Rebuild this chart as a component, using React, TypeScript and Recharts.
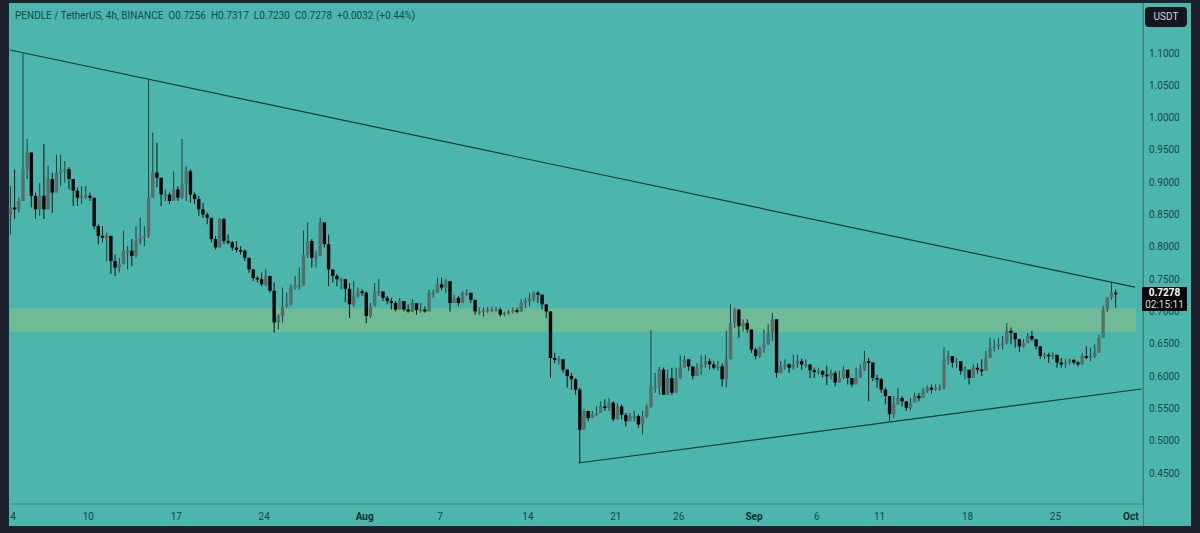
import { ComposedChart, Bar, XAxis, YAxis, ReferenceLine, ReferenceArea } from 'recharts';

// 8h candles, first candle sits a little before Jul 4
const closes = [
  .861, .858, .871, .920, .946, .879, .858, .879, .858, .905, .884, .915, .917, .920, .905, .887, .876, .879, .879, .876,
  .832, .817, .814, .817, .778, .768, .773, .794, .794, .786, .809, .814, .817, .876, .915, .907, .881, .881, .871, .889,
  .876, .897, .917, .881, .874, .858, .850, .845, .812, .799, .843, .809, .807, .799, .795, .794, .783, .765, .752, .750,
  .742, .755, .732, .683, .693, .708, .711, .737, .740, .740, .788, .809, .783, .786, .838, .804, .765, .755, .750, .750,
  .735, .711, .724, .731, .729, .693, .708, .731, .731, .721, .716, .713, .703, .716, .703, .700, .713, .702, .703, .700,
  .729, .729, .742, .737, .747, .713, .721, .713, .729, .729, .718, .700, .700, .702, .703, .703, .703, .695, .698, .700,
  .702, .700, .713, .716, .721, .729, .726, .711, .700, .628, .625, .626, .610, .600, .595, .579, .517, .546, .535, .541,
  .543, .553, .551, .559, .533, .553, .540, .530, .538, .538, .525, .538, .553, .584, .584, .610, .571, .597, .574, .597,
  .613, .626, .615, .600, .613, .618, .623, .618, .613, .615, .595, .626, .682, .703, .677, .682, .672, .641, .631, .644,
  .649, .667, .688, .605, .615, .618, .613, .618, .623, .618, .618, .609, .606, .608, .602, .600, .605, .590, .597, .610,
  .597, .587, .597, .610, .623, .621, .597, .595, .579, .569, .541, .556, .566, .561, .551, .559, .569, .566, .577, .582,
  .579, .582, .582, .626, .631, .621, .623, .608, .610, .597, .613, .610, .608, .628, .644, .646, .649, .651, .670, .667,
  .657, .646, .651, .662, .657, .646, .631, .633, .631, .633, .621, .618, .621, .625, .621, .618, .631, .628, .631, .636,
  .659, .703, .722, .729, .7278,
];
const highs = [
  .894, .920, .876, 1.100, .967, .946, .884, .899, .959, .925, .915, .943, .943, .933, .923, .905, .892, .894, .894, .884,
  .876, .835, .832, .822, .817, .788, .783, .825, .801, .812, .832, .845, .832, 1.059, .977, .961, .897, .889, .884, .917,
  .894, .967, .925, .920, .884, .879, .868, .853, .843, .817, .845, .845, .819, .809, .809, .801, .796, .783, .765, .755,
  .760, .765, .755, .745, .696, .737, .729, .742, .755, .768, .825, .838, .812, .794, .845, .827, .819, .765, .758, .752,
  .742, .744, .747, .737, .734, .731, .713, .744, .750, .729, .724, .721, .716, .721, .716, .711, .719, .708, .713, .708,
  .734, .734, .752, .752, .750, .744, .726, .724, .731, .734, .726, .716, .706, .706, .707, .707, .707, .706, .700, .703,
  .706, .706, .719, .721, .729, .731, .731, .721, .711, .700, .636, .631, .626, .610, .605, .597, .582, .549, .546, .546,
  .553, .561, .564, .566, .561, .558, .556, .543, .543, .546, .541, .546, .556, .671, .605, .614, .613, .610, .613, .613,
  .632, .632, .623, .613, .620, .632, .633, .628, .623, .623, .620, .670, .711, .706, .703, .688, .688, .672, .644, .646,
  .672, .680, .698, .649, .623, .626, .620, .633, .633, .627, .626, .618, .613, .613, .609, .616, .610, .608, .608, .615,
  .605, .597, .613, .618, .639, .628, .621, .602, .597, .582, .563, .569, .582, .569, .559, .566, .574, .574, .582, .585,
  .587, .587, .587, .644, .639, .628, .628, .620, .615, .608, .618, .620, .626, .639, .659, .657, .659, .662, .682, .675,
  .664, .657, .657, .667, .670, .656, .646, .636, .636, .637, .628, .628, .626, .627, .626, .623, .636, .646, .644, .649,
  .664, .709, .722, .745, .734,
];
const lows = [
  .819, .843, .853, .879, .905, .861, .843, .848, .843, .858, .853, .892, .894, .899, .889, .863, .863, .866, .874, .871,
  .827, .804, .807, .778, .758, .755, .760, .776, .765, .770, .783, .804, .801, .814, .879, .892, .863, .871, .866, .879,
  .871, .874, .871, .868, .866, .848, .845, .835, .807, .796, .799, .804, .804, .794, .791, .788, .778, .760, .747, .745,
  .739, .739, .729, .667, .672, .683, .706, .709, .734, .734, .740, .783, .768, .768, .786, .799, .739, .745, .739, .734,
  .714, .690, .708, .721, .724, .682, .690, .708, .724, .716, .711, .703, .700, .703, .700, .698, .699, .695, .698, .698,
  .703, .721, .729, .733, .729, .700, .713, .708, .716, .724, .713, .695, .695, .692, .698, .699, .700, .692, .693, .695,
  .697, .697, .700, .706, .708, .716, .713, .703, .690, .597, .620, .618, .605, .582, .579, .571, .466, .517, .530, .535,
  .538, .546, .546, .546, .530, .538, .533, .522, .530, .530, .520, .510, .535, .551, .574, .571, .571, .571, .571, .590,
  .595, .615, .608, .595, .600, .602, .613, .610, .610, .608, .584, .583, .626, .674, .659, .669, .667, .636, .626, .628,
  .636, .649, .654, .597, .605, .610, .605, .610, .613, .610, .613, .597, .597, .602, .598, .586, .595, .584, .590, .595,
  .587, .583, .590, .602, .608, .561, .592, .582, .574, .556, .530, .535, .556, .553, .546, .548, .561, .561, .566, .574,
  .573, .577, .577, .579, .618, .613, .613, .602, .595, .587, .602, .604, .600, .613, .628, .638, .641, .641, .649, .649,
  .644, .637, .644, .654, .654, .641, .627, .626, .620, .626, .613, .613, .613, .618, .618, .615, .618, .626, .623, .628,
  .641, .659, .699, .718, .706,
];
const opens = closes.map((c, i) => (i === 0 ? .850 : closes[i - 1]));
const candles = closes.map((close, i) => ({
  day: -0.2 + i / 3,
  open: opens[i],
  close,
  high: highs[i],
  low: lows[i],
  range: [lows[i], highs[i]],
}));

const priceTicks = [1.1, 1.05, 1.0, 0.95, 0.9, 0.85, 0.8, 0.75, 0.7, 0.65, 0.6, 0.55, 0.5, 0.45];
const dayTicks = [0, 6, 13, 20, 28, 34, 41, 48, 53, 59, 64, 69, 76, 83, 89];
const dayLabels = ['4', '10', '17', '24', 'Aug', '7', '14', '21', '26', 'Sep', '6', '11', '18', '25', 'Oct'];
const monthLabels = ['Aug', 'Sep', 'Oct'];

const upperTrend = [{ x: -0.24, y: 1.1046 }, { x: 89.33, y: 0.7376 }];
const lowerTrend = [{ x: 45.0, y: 0.4655 }, { x: 89.85, y: 0.58 }];
const zone = { x1: -0.24, x2: 89.4, y1: 0.6686, y2: 0.7046 };

const BG = '#1e222d';
const TEAL = '#4db6ac';
const TEXT = '#12494d';
const FONT = 'Roboto, sans-serif';

function Candle(props: any) {
  const { x, y, width, height, payload } = props;
  const perPrice = height / (payload.high - payload.low);
  const toY = (v: number) => y + (payload.high - v) * perPrice;
  const mid = x + width / 2 - 0.5;
  const up = payload.close >= payload.open;
  const top = toY(Math.max(payload.open, payload.close));
  const bottom = toY(Math.min(payload.open, payload.close));
  return (
    <g>
      <line x1={mid} x2={mid} y1={y} y2={y + height} stroke={up ? '#1f3d3e' : '#0b1414'} strokeWidth={1} />
      <rect
        x={mid - 1.7}
        y={top}
        width={3.4}
        height={Math.max(bottom - top, 1.6)}
        fill={up ? '#566e6c' : '#040606'}
        stroke="none"
      />
    </g>
  );
}

function DayTick(props: any) {
  const { x, y, payload } = props;
  const label = dayLabels[dayTicks.indexOf(payload.value)];
  const month = monthLabels.includes(label);
  return (
    <text
      x={x}
      y={y + 8}
      textAnchor="middle"
      fontFamily={FONT}
      fontSize={10}
      fontWeight={month ? 700 : 400}
      fill={month ? '#0c2f33' : TEXT}
    >
      {label}
    </text>
  );
}

export default function App() {
  return (
    <div style={{ position: 'absolute', left: 0, top: 0, width: 1200, height: 533, background: BG, overflow: 'hidden' }}>
      <div style={{ position: 'absolute', left: 9, top: 3, width: 1182, height: 523, background: TEAL }} />
      <div style={{ position: 'absolute', left: 1143, top: 3, width: 1, height: 523, background: '#3a8486' }} />
      <div style={{ position: 'absolute', left: 0, top: 0 }}>
        <ComposedChart
          width={1200}
          height={533}
          data={candles}
          margin={{ top: 3, right: 9, bottom: 7, left: 10 }}
        >
          <XAxis
            dataKey="day"
            type="number"
            domain={[-0.24, 89.97]}
            ticks={dayTicks}
            interval={0}
            height={22}
            tick={<DayTick />}
            tickLine={false}
            axisLine={{ stroke: '#3a8486' }}
          />
          <YAxis
            orientation="right"
            type="number"
            domain={[0.402, 1.1774]}
            ticks={priceTicks}
            interval={0}
            width={48}
            tickFormatter={(v: number) => v.toFixed(4)}
            tick={{ fontFamily: FONT, fontSize: 10, fill: TEXT, dx: -2 }}
            tickLine={false}
            axisLine={{ stroke: '#3a8486' }}
          />
          <ReferenceArea {...zone} fill="#6fbb96" fillOpacity={1} stroke="none" />
          <Bar dataKey="range" barSize={3} shape={<Candle />} isAnimationActive={false} />
          <ReferenceLine segment={upperTrend} stroke="#123c40" strokeWidth={1.2} />
          <ReferenceLine segment={lowerTrend} stroke="#123c40" strokeWidth={1.2} />
        </ComposedChart>
      </div>
      <div style={{ position: 'absolute', left: 15, top: 10, fontFamily: FONT, fontSize: 10, color: TEXT, whiteSpace: 'pre' }}>
        {'PENDLE / TetherUS, 4h, BINANCE  O0.7256  H0.7317  L0.7230  C0.7278  +0.0032 (+0.44%)'}
      </div>
      <div style={{ position: 'absolute', left: 1145, top: 7, width: 42, height: 20, borderRadius: 4, background: '#14161f', color: '#d6d8de', fontFamily: FONT, fontSize: 10, lineHeight: '20px', textAlign: 'center' }}>
        USDT
      </div>
      <div style={{ position: 'absolute', left: 1142, top: 287, width: 45, height: 24, background: '#050708', fontFamily: FONT, fontSize: 10, lineHeight: '12px', textAlign: 'center' }}>
        <div style={{ color: '#ffffff', fontWeight: 700 }}>0.7278</div>
        <div style={{ color: '#d8dcdc' }}>02:15:11</div>
      </div>
    </div>
  );
}
